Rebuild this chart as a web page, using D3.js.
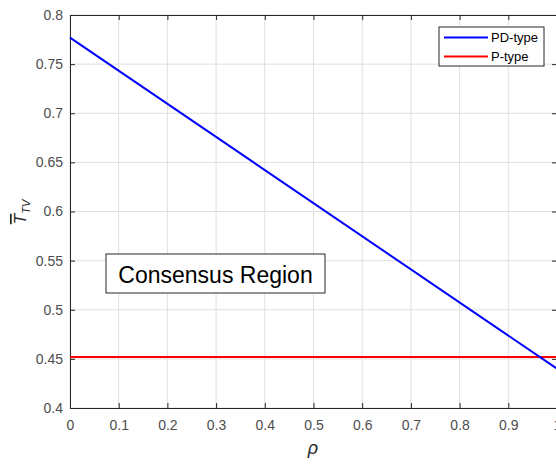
<!DOCTYPE html>
<meta charset="utf-8">
<style>
html, body {
  margin: 0;
  background: #fff;
}

svg text {
  font-family: "Liberation Sans", Arial, sans-serif;
}

.grid line {
  stroke: #dfdfdf;
  stroke-width: 1px;
}

.axis path, .axis line {
  stroke: #262626;
}

.axis text {
  fill: #4d4d4d;
  font-size: 14px;
}
</style>
<svg></svg>
<script src="https://d3js.org/d3.v7.min.js"></script>
<script>

// series data
var rho = [0, 1];
var pdType = [0.777, 0.440];
var pType = [0.452, 0.452];
var xTicks = [0, 0.1, 0.2, 0.3, 0.4, 0.5, 0.6, 0.7, 0.8, 0.9, 1];
var yTicks = [0.4, 0.45, 0.5, 0.55, 0.6, 0.65, 0.7, 0.75, 0.8];
var legendNames = ['PD-type', 'P-type'];
var colors = ['#0000ff', '#ff0000'];

var margin = {left: 70, top: 15, right: -1, bottom: 56};
var W = 556, H = 464;
var width = W - margin.left - margin.right;
var height = H - margin.top - margin.bottom;

var svg = d3.select('svg')
  .attr('width', W)
  .attr('height', H)
  .append('g')
  .attr('transform', 'translate(' + margin.left + ',' + margin.top + ')');

var x = d3.scaleLinear().domain([0, 1]).range([0, width]);
var y = d3.scaleLinear().domain([0.4, 0.8]).range([height, 0]);

// grid
var grid = svg.append('g').attr('class', 'grid');
grid.selectAll('.gx').data(xTicks).enter().append('line')
  .attr('x1', function (d) { return x(d); })
  .attr('x2', function (d) { return x(d); })
  .attr('y1', 0).attr('y2', height);
grid.selectAll('.gy').data(yTicks).enter().append('line')
  .attr('x1', 0).attr('x2', width)
  .attr('y1', function (d) { return y(d); })
  .attr('y2', function (d) { return y(d); });

// axes
var fmt = function (d) { return d3.format('')(+d.toFixed(2)); };
svg.append('g').attr('class', 'axis')
  .attr('transform', 'translate(0,' + height + ')')
  .call(d3.axisBottom(x).tickValues(xTicks).tickSize(-5).tickPadding(12).tickFormat(fmt));
svg.append('g').attr('class', 'axis')
  .call(d3.axisLeft(y).tickValues(yTicks).tickSize(-5).tickPadding(7).tickFormat(fmt));
svg.append('g').attr('class', 'axis')
  .call(d3.axisTop(x).tickValues(xTicks).tickSize(-5).tickFormat(''));
svg.append('g').attr('class', 'axis')
  .attr('transform', 'translate(' + width + ',0)')
  .call(d3.axisRight(y).tickValues(yTicks).tickSize(-5).tickFormat(''));

// lines
var line = d3.line()
  .x(function (d) { return x(d[0]); })
  .y(function (d) { return y(d[1]); });

[pType, pdType].forEach(function (s, i) {
  svg.append('path')
    .datum(rho.map(function (r, j) { return [r, s[j]]; }))
    .attr('d', line)
    .attr('fill', 'none')
    .attr('stroke', i === 0 ? colors[1] : colors[0])
    .attr('stroke-width', 2);
});

// text box
var box = svg.append('g').attr('transform', 'translate(' + (106 - margin.left) + ',' + (254 - margin.top) + ')');
box.append('rect')
  .attr('width', 219).attr('height', 39)
  .attr('fill', '#fff').attr('stroke', '#262626').attr('stroke-width', 1);
box.append('text')
  .attr('x', 109.5).attr('y', 29)
  .attr('text-anchor', 'middle')
  .attr('font-size', '23px')
  .attr('fill', '#000')
  .text('Consensus Region');

// legend
var leg = svg.append('g').attr('transform', 'translate(' + (439 - margin.left) + ',' + (27 - margin.top) + ')');
leg.append('rect')
  .attr('width', 105).attr('height', 39)
  .attr('fill', '#fff').attr('stroke', '#262626').attr('stroke-width', 1);
legendNames.forEach(function (n, i) {
  leg.append('line')
    .attr('x1', 5).attr('x2', 49)
    .attr('y1', 10.5 + i * 19).attr('y2', 10.5 + i * 19)
    .attr('stroke', colors[i]).attr('stroke-width', 2);
  leg.append('text')
    .attr('x', 52).attr('y', 15 + i * 19)
    .attr('font-size', '13px')
    .attr('fill', '#000')
    .text(n);
});

// axis labels
d3.select('svg').append('text')
  .attr('x', 313).attr('y', 454)
  .attr('text-anchor', 'middle')
  .attr('font-size', '18px')
  .attr('font-style', 'italic')
  .attr('fill', '#262626')
  .attr('font-family', '"Liberation Serif", serif')
  .text('ρ');

var yl = d3.select('svg').append('text')
  .attr('transform', 'translate(26,212) rotate(-90)')
  .attr('text-anchor', 'middle')
  .attr('fill', '#262626')
  .attr('font-family', '"Liberation Serif", serif')
  .attr('font-style', 'italic')
  .attr('font-size', '17px');
yl.append('tspan').attr('text-decoration', 'overline').text('T');
yl.append('tspan').attr('font-size', '11px').attr('dy', 4).text('TV');

</script>
